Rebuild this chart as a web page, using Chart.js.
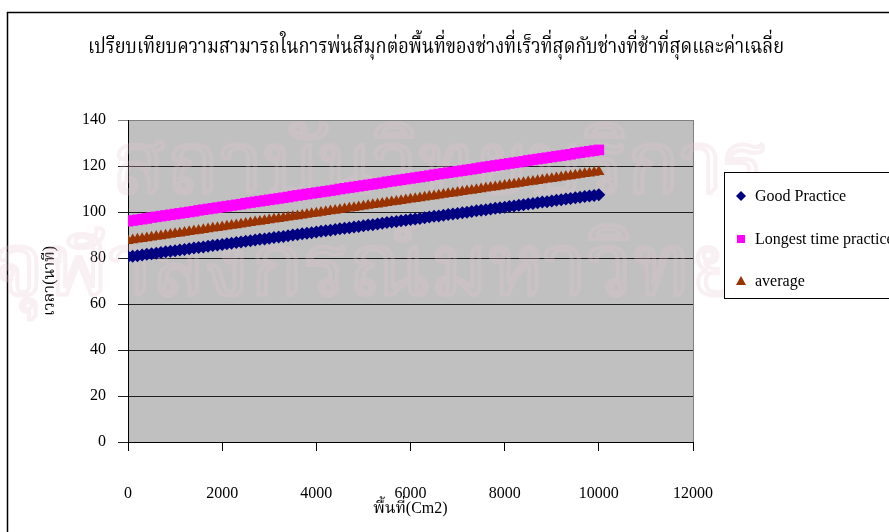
<!DOCTYPE html>
<html>
<head>
<meta charset="utf-8">
<script src="https://cdn.jsdelivr.net/npm/chart.js@4.4.1/dist/chart.umd.min.js"></script>
<style>
  html, body { margin: 0; padding: 0; background: #ffffff; }
  canvas { display: block; }
</style>
</head>
<body>
<canvas id="chart" width="889" height="532"></canvas>
<script>
// Sprayed area (cm2)
const areaCm2 = [
  0, 100, 200, 300, 400, 500, 600, 700, 800, 900,
  1000, 1100, 1200, 1300, 1400, 1500, 1600, 1700, 1800, 1900,
  2000, 2100, 2200, 2300, 2400, 2500, 2600, 2700, 2800, 2900,
  3000, 3100, 3200, 3300, 3400, 3500, 3600, 3700, 3800, 3900,
  4000, 4100, 4200, 4300, 4400, 4500, 4600, 4700, 4800, 4900,
  5000, 5100, 5200, 5300, 5400, 5500, 5600, 5700, 5800, 5900,
  6000, 6100, 6200, 6300, 6400, 6500, 6600, 6700, 6800, 6900,
  7000, 7100, 7200, 7300, 7400, 7500, 7600, 7700, 7800, 7900,
  8000, 8100, 8200, 8300, 8400, 8500, 8600, 8700, 8800, 8900,
  9000, 9100, 9200, 9300, 9400, 9500, 9600, 9700, 9800, 9900,
  10000
];

// Time (minutes) – fastest worker
const goodPractice = [
  80.5, 80.8, 81.0, 81.3, 81.6, 81.9, 82.1, 82.4, 82.7, 82.9,
  83.2, 83.5, 83.7, 84.0, 84.3, 84.6, 84.8, 85.1, 85.4, 85.6,
  85.9, 86.2, 86.4, 86.7, 87.0, 87.3, 87.5, 87.8, 88.1, 88.3,
  88.6, 88.9, 89.1, 89.4, 89.7, 90.0, 90.2, 90.5, 90.8, 91.0,
  91.3, 91.6, 91.8, 92.1, 92.4, 92.7, 92.9, 93.2, 93.5, 93.7,
  94.0, 94.3, 94.5, 94.8, 95.1, 95.4, 95.6, 95.9, 96.2, 96.4,
  96.7, 97.0, 97.2, 97.5, 97.8, 98.1, 98.3, 98.6, 98.9, 99.1,
  99.4, 99.7, 99.9, 100.2, 100.5, 100.8, 101.0, 101.3, 101.6, 101.8,
  102.1, 102.4, 102.6, 102.9, 103.2, 103.5, 103.7, 104.0, 104.3, 104.5,
  104.8, 105.1, 105.3, 105.6, 105.9, 106.2, 106.4, 106.7, 107.0, 107.2,
  107.5
];

// Time (minutes) – slowest worker
const longestTime = [
  96.0, 96.3, 96.6, 96.9, 97.2, 97.6, 97.9, 98.2, 98.5, 98.8,
  99.1, 99.4, 99.7, 100.0, 100.3, 100.7, 101.0, 101.3, 101.6, 101.9,
  102.2, 102.5, 102.8, 103.1, 103.4, 103.8, 104.1, 104.4, 104.7, 105.0,
  105.3, 105.6, 105.9, 106.2, 106.5, 106.9, 107.2, 107.5, 107.8, 108.1,
  108.4, 108.7, 109.0, 109.3, 109.6, 110.0, 110.3, 110.6, 110.9, 111.2,
  111.5, 111.8, 112.1, 112.4, 112.7, 113.1, 113.4, 113.7, 114.0, 114.3,
  114.6, 114.9, 115.2, 115.5, 115.8, 116.2, 116.5, 116.8, 117.1, 117.4,
  117.7, 118.0, 118.3, 118.6, 118.9, 119.3, 119.6, 119.9, 120.2, 120.5,
  120.8, 121.1, 121.4, 121.7, 122.0, 122.4, 122.7, 123.0, 123.3, 123.6,
  123.9, 124.2, 124.5, 124.8, 125.1, 125.5, 125.8, 126.1, 126.4, 126.7,
  127.0
];

// Time (minutes) – average
const averageTime = [
  87.5, 87.8, 88.1, 88.4, 88.7, 89.0, 89.3, 89.6, 89.9, 90.2,
  90.5, 90.8, 91.1, 91.4, 91.7, 92.0, 92.3, 92.6, 92.9, 93.2,
  93.5, 93.8, 94.1, 94.4, 94.7, 95.0, 95.3, 95.6, 95.9, 96.2,
  96.5, 96.8, 97.1, 97.4, 97.7, 98.0, 98.3, 98.6, 98.9, 99.2,
  99.5, 99.8, 100.1, 100.4, 100.7, 101.0, 101.3, 101.6, 101.9, 102.2,
  102.5, 102.8, 103.1, 103.4, 103.7, 104.0, 104.3, 104.6, 104.9, 105.2,
  105.5, 105.8, 106.1, 106.4, 106.7, 107.0, 107.3, 107.6, 107.9, 108.2,
  108.5, 108.8, 109.1, 109.4, 109.7, 110.0, 110.3, 110.6, 110.9, 111.2,
  111.5, 111.8, 112.1, 112.4, 112.7, 113.0, 113.3, 113.6, 113.9, 114.2,
  114.5, 114.8, 115.1, 115.4, 115.7, 116.0, 116.3, 116.6, 116.9, 117.2,
  117.5
];

const seriesNames = ['Good Practice', 'Longest time practice', 'average'];
const xTickValues = [0, 2000, 4000, 6000, 8000, 10000, 12000];
const yTickValues = [0, 20, 40, 60, 80, 100, 120, 140];

const chartTitle = 'เปรียบเทียบความสามารถในการพ่นสีมุกต่อพื้นที่ของช่างที่เร็วที่สุดกับช่างที่ช้าที่สุดและค่าเฉลี่ย';
const xTitle = 'พื้นที่(Cm2)';
const yTitle = 'เวลา(นาที)';
const watermarkLines = ['สถาบันวิทยบริการ', 'จุฬาลงกรณ์มหาวิทยาลัย'];

const SERIF = "'Liberation Serif', 'Times New Roman', 'Noto Serif Thai', serif";

function toPoints(ys) {
  return areaCm2.map((x, i) => ({ x: x, y: ys[i] }));
}

function drawMarker(ctx, style, color, x, y, r) {
  ctx.fillStyle = color;
  ctx.beginPath();
  if (style === 'rectRot') {
    ctx.moveTo(x - r, y); ctx.lineTo(x, y - r); ctx.lineTo(x + r, y); ctx.lineTo(x, y + r);
  } else if (style === 'rect') {
    ctx.rect(x - r, y - r, 2 * r, 2 * r);
  } else {
    ctx.moveTo(x, y - r); ctx.lineTo(x + r, y + r * 0.8); ctx.lineTo(x - r, y + r * 0.8);
  }
  ctx.closePath();
  ctx.fill();
}

// Text squeezed horizontally so it fills a given width
function fitText(ctx, text, cx, cy, width, fill) {
  const w = ctx.measureText(text).width;
  ctx.save();
  ctx.translate(cx, cy);
  ctx.scale(width / w, 1);
  if (fill) ctx.fillText(text, 0, 0); else ctx.strokeText(text, 0, 0);
  ctx.restore();
}

const decorations = {
  id: 'decorations',
  beforeDraw(chart) {
    const ctx = chart.ctx;
    const a = chart.chartArea;
    ctx.save();
    ctx.fillStyle = '#ffffff';
    ctx.fillRect(0, 0, chart.width, chart.height);

    // outer frame
    ctx.strokeStyle = '#000000';
    ctx.lineWidth = 1.5;
    ctx.beginPath();
    ctx.moveTo(7.5, chart.height);
    ctx.lineTo(7.5, 12.5);
    ctx.lineTo(chart.width, 12.5);
    ctx.stroke();

    // plot area fill and right edge
    ctx.fillStyle = '#c0c0c0';
    ctx.fillRect(a.left, a.top, a.right - a.left, a.bottom - a.top);
    ctx.strokeStyle = '#808080';
    ctx.lineWidth = 1;
    ctx.beginPath();
    ctx.moveTo(a.right + 0.5, a.top);
    ctx.lineTo(a.right + 0.5, a.bottom);
    ctx.stroke();

    // title
    ctx.fillStyle = '#000000';
    ctx.font = "22px " + SERIF;
    ctx.textAlign = 'center';
    ctx.textBaseline = 'middle';
    fitText(ctx, chartTitle, 436, 47, 696, true);
    ctx.restore();
  },
  beforeDatasetsDraw(chart) {
    const ctx = chart.ctx;
    ctx.save();
    ctx.strokeStyle = 'rgba(230, 195, 210, 0.25)';
    ctx.lineWidth = 4;
    ctx.textAlign = 'center';
    ctx.textBaseline = 'alphabetic';
    ctx.font = "86px " + SERIF;
    fitText(ctx, watermarkLines[0], 440, 192, 655, false);
    fitText(ctx, watermarkLines[1], 444, 294, 900, false);
    ctx.restore();
  },
  afterDraw(chart) {
    const ctx = chart.ctx;
    ctx.save();
    // legend box
    ctx.fillStyle = '#ffffff';
    ctx.fillRect(724.5, 172.5, chart.width, 126);
    ctx.strokeStyle = '#000000';
    ctx.lineWidth = 1;
    ctx.strokeRect(724.5, 172.5, chart.width, 126);
    const rows = [196, 239, 281];
    ctx.font = "16px " + SERIF;
    ctx.textAlign = 'left';
    ctx.textBaseline = 'middle';
    chart.data.datasets.forEach((ds, i) => {
      const r = ds.pointStyle === 'rect' ? 4 : 5;
      drawMarker(ctx, ds.pointStyle, ds.backgroundColor, 741, rows[i], r);
      ctx.fillStyle = '#000000';
      ctx.fillText(ds.label, 755, rows[i] + 1);
    });
    ctx.restore();
  }
};

new Chart(document.getElementById('chart'), {
  type: 'scatter',
  data: {
    datasets: [
      {
        label: seriesNames[0],
        data: toPoints(goodPractice),
        pointStyle: 'rectRot',
        pointRadius: 6.5,
        backgroundColor: '#000080',
        borderColor: '#000080',
        borderWidth: 0
      },
      {
        label: seriesNames[1],
        data: toPoints(longestTime),
        pointStyle: 'rect',
        pointRadius: 7.5,
        backgroundColor: '#ff00ff',
        borderColor: '#ff00ff',
        borderWidth: 0
      },
      {
        label: seriesNames[2],
        data: toPoints(averageTime),
        pointStyle: 'triangle',
        pointRadius: 6.5,
        backgroundColor: '#993300',
        borderColor: '#993300',
        borderWidth: 0
      }
    ]
  },
  options: {
    responsive: false,
    animation: false,
    events: [],
    layout: { padding: { top: 120, left: 40, right: 196, bottom: 14 } },
    plugins: {
      legend: { display: false },
      tooltip: { enabled: false },
      title: { display: false }
    },
    scales: {
      x: {
        type: 'linear',
        min: xTickValues[0],
        max: xTickValues[xTickValues.length - 1],
        afterBuildTicks(scale) { scale.ticks = xTickValues.map(v => ({ value: v })); },
        afterFit(scale) { scale.height = 76; },
        border: { display: true, color: '#000000', width: 1 },
        grid: { drawOnChartArea: false, drawTicks: true, tickLength: 9, color: '#000000' },
        ticks: {
          padding: 33,
          maxRotation: 0,
          color: '#000000',
          font: { family: SERIF, size: 16 },
          callback: v => String(v)
        },
        title: {
          display: true,
          text: xTitle,
          color: '#000000',
          padding: 0,
          font: { family: SERIF, size: 16 }
        }
      },
      y: {
        type: 'linear',
        min: yTickValues[0],
        max: yTickValues[yTickValues.length - 1],
        afterBuildTicks(scale) { scale.ticks = yTickValues.map(v => ({ value: v })); },
        afterFit(scale) { scale.width = 88; },
        border: { display: true, color: '#000000', width: 1 },
        grid: {
          drawOnChartArea: true,
          drawTicks: true,
          tickLength: 10,
          lineWidth: 1,
          color: ctx => (ctx.tick && ctx.tick.value === 140 ? '#808080' : '#202020')
        },
        ticks: {
          padding: 12,
          color: '#000000',
          font: { family: SERIF, size: 16 },
          callback: v => String(v)
        },
        title: {
          display: true,
          text: yTitle,
          color: '#000000',
          padding: 0,
          font: { family: SERIF, size: 16 }
        }
      }
    }
  },
  plugins: [decorations]
});
</script>
</body>
</html>
